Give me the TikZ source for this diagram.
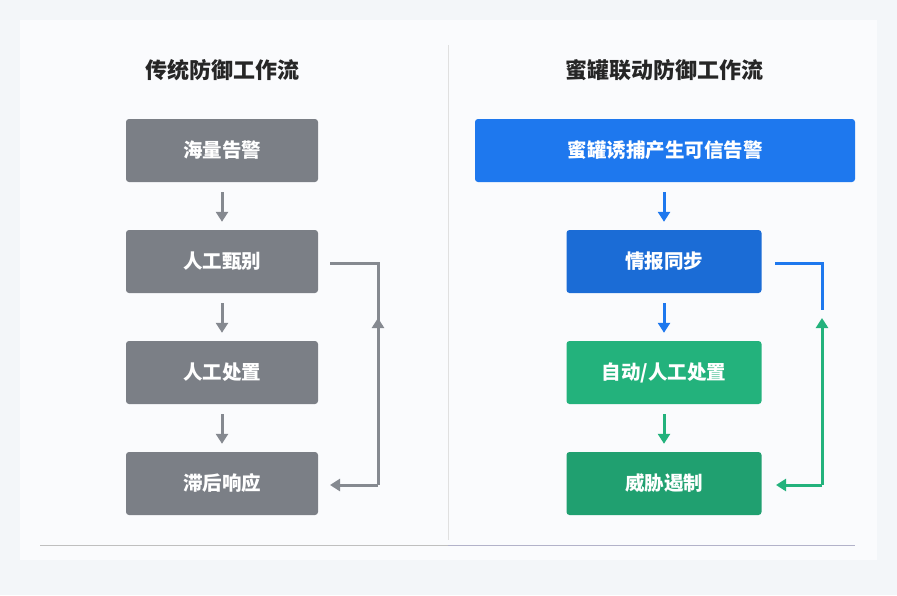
\documentclass[tikz,border=0pt]{standalone}
\usepackage{fontspec}
\setmainfont{Noto Sans CJK SC}
\usetikzlibrary{arrows.meta}
\definecolor{bg}{HTML}{F3F6F9}
\definecolor{gbox}{HTML}{7B7F86}
\definecolor{bbox}{HTML}{1E78EE}
\definecolor{gr}{HTML}{23B27C}
\definecolor{gline}{HTML}{858990}
\begin{document}
\begin{tikzpicture}[x=1pt,y=-1pt,
 box/.style={rounded corners=3pt,minimum height=63pt,text=white,font=\fontsize{19.5}{22}\selectfont\bfseries},
 ttl/.style={font=\fontsize{22}{26}\selectfont\bfseries,text=black!85},
 ar/.style={-{Triangle[length=10pt,width=12pt]},line width=3pt}]
\fill[bg] (0,0) rectangle (897,595);
\fill[white!60!bg] (20,20) rectangle (877,560);
\draw[black!12,line width=0.8pt] (448,45) -- (448,540);
\draw[black!25,line width=0.8pt] (40,545) -- (448,545);
\draw[blue!30!black!30,line width=0.8pt] (448,545) -- (855,545);
\node[ttl] (t1) at (222,70) {传统防御工作流};
\node[ttl] (t2) at (664,70) {蜜罐联动防御工作流};
\node[box,fill=gbox,minimum width=192pt] (a1) at (222,150.5) {海量告警};
\node[box,fill=gbox,minimum width=192pt] (a2) at (222,261.5) {人工甄别};
\node[box,fill=gbox,minimum width=192pt] (a3) at (222,372.5) {人工处置};
\node[box,fill=gbox,minimum width=192pt] (a4) at (222,483.5) {滞后响应};
\foreach \u/\v in {a1/a2,a2/a3,a3/a4}
 \draw[ar,gline,shorten <=10pt,shorten >=8pt] (\u) -- (\v);
\coordinate (l1) at (330,263); \coordinate (l2) at (378,263);
\coordinate (l3) at (378,485); \coordinate (l4) at (330,485);
\coordinate (lm) at (378,318);
\draw[gline,line width=3pt] (l1) -- (l2) -- (l3);
\draw[ar,gline] (378,340) -- (lm);
\draw[ar,gline] (l3) -- (l4);
\node[box,fill=bbox,minimum width=380pt] (b1) at (665,150.5) {蜜罐诱捕产生可信告警};
\node[box,fill=bbox!90!black,minimum width=195pt] (b2) at (664,261.5) {情报同步};
\node[box,fill=gr,minimum width=195pt] (b3) at (664,372.5) {自动/人工处置};
\node[box,fill=gr!90!black,minimum width=195pt] (b4) at (664,483.5) {威胁遏制};
\draw[ar,bbox,shorten <=10pt,shorten >=8pt] (b1.south -| b2) -- (b2);
\draw[ar,bbox,shorten <=10pt,shorten >=8pt] (b2) -- (b3);
\draw[ar,gr,shorten <=10pt,shorten >=8pt] (b3) -- (b4);
\coordinate (r1) at (775,263); \coordinate (r2) at (822,263);
\coordinate (rm) at (822,318); \coordinate (r3) at (822,485); \coordinate (r4) at (776,485);
\draw[bbox,line width=3pt] (r1) -- (r2) -- (822,310);
\draw[gr,line width=3pt] (822,330) -- (r3);
\draw[ar,gr] (822,340) -- (rm);
\draw[ar,gr] (r3) -- (r4);
\end{tikzpicture}
\end{document}
